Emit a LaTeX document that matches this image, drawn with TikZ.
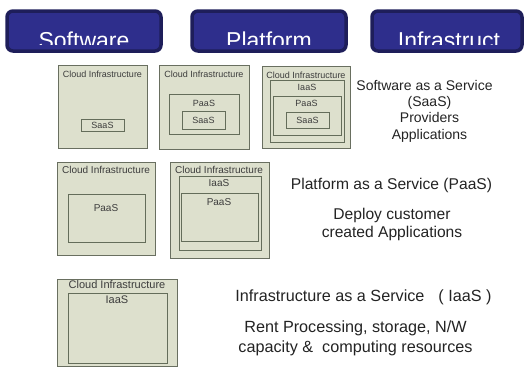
\documentclass[tikz,border=0pt]{standalone}
\usepackage{fontspec}
\setmainfont{Liberation Sans}
\usetikzlibrary{positioning}

\definecolor{btnfill}{RGB}{46,46,140}
\definecolor{btnline}{RGB}{30,30,90}
\definecolor{boxfill}{RGB}{221,224,205}
\definecolor{boxline}{RGB}{105,111,96}
\definecolor{innerline}{RGB}{100,109,90}
\definecolor{tagtext}{RGB}{60,60,60}
\definecolor{captext}{RGB}{35,35,35}

\tikzset{
  btnbox/.style={draw=btnline, fill=btnfill, line width=3.5pt, rounded corners=6pt},
  btntext/.style={font=\fontsize{23}{24}\selectfont, text=white, anchor=base, inner sep=0pt},
  cibox/.style={draw=boxline, fill=boxfill, line width=1pt},
  layerbox/.style={draw=innerline, line width=1pt},
  tag/.style={font=\fontsize{#1}{#1}\selectfont, text=tagtext, inner sep=0pt},
  tag/.default=9,
  caption/.style={font=\fontsize{#1}{#1}\selectfont, text=captext, align=center, inner sep=0pt},
  caption/.default=16
}

\begin{document}
\begin{tikzpicture}[x=1pt,y=-1pt]
  \useasboundingbox (0,0) rectangle (531,367);

  % buttons on top
  \draw[btnbox] (7,11) rectangle (161,51);
  \draw[btnbox] (192,11) rectangle (346,51);
  \draw[btnbox] (372,11) rectangle (522,51);
  \begin{scope}
    \clip (0,0) rectangle (531,44.5);
    \node[btntext] (btnsw) at (84,48.5) {Software};
    \node[btntext] (btnpf) at (269,48.5) {Platform};
    \node[btntext] (btnin) at (449,48.5) {Infrastruct};
  \end{scope}

  % SaaS row
  \draw[cibox] (58,65) rectangle (147,148);
  \node[tag] (ciA) at (102.5,74) {Cloud Infrastructure};
  \draw[layerbox] (81,119) rectangle (124,131);
  \node[tag] (saasA) at (102.5,125) {SaaS};

  \draw[cibox] (159,65) rectangle (249,149);
  \node[tag] (ciB) at (204,74) {Cloud Infrastructure};
  \draw[layerbox] (169,94) rectangle (239,134);
  \node[tag] (paasB) at (204,103) {PaaS};
  \draw[layerbox] (182,111) rectangle (225,129);
  \node[tag] (saasB) at (203.5,120) {SaaS};

  \draw[cibox] (262,66) rectangle (350,148);
  \node[tag] (ciC) at (306,75) {Cloud Infrastructure};
  \draw[layerbox] (270,80) rectangle (344,142);
  \node[tag] (iaasC) at (307,87) {IaaS};
  \draw[layerbox] (273,96) rectangle (341,135);
  \node[tag] (paasC) at (306.5,103) {PaaS};
  \draw[layerbox] (286,112) rectangle (329,128);
  \node[tag] (saasC) at (307.5,120) {SaaS};

  \node[caption=14] (saastxt) at (429.5,111)
    {Software as a Service\hspace*{10pt}\\[2.3pt](SaaS)\\[2.3pt]Providers\\[2.3pt]Applications};

  % PaaS row
  \draw[cibox] (57,162) rectangle (155,255);
  \node[tag=10] (ciD) at (106,170) {Cloud Infrastructure};
  \draw[layerbox] (68,194) rectangle (145,242);
  \node[tag=10] (paasD) at (106,208) {PaaS};

  \draw[cibox] (170,162) rectangle (269,258);
  \node[tag=10] (ciE) at (219,170) {Cloud Infrastructure};
  \draw[layerbox] (179,176) rectangle (261,250);
  \node[tag=10] (iaasE) at (219,183) {IaaS};
  \draw[layerbox] (181,193) rectangle (258,241);
  \node[tag=10] (paasE) at (219,202) {PaaS};

  \node[caption=15.6] (paastxt) at (391.5,185) {Platform as a Service (PaaS)};
  \node[caption=15.6] (paasuse) at (392,224) {Deploy customer\\[2.4pt]created Applications};

  % IaaS row
  \draw[cibox] (57,279) rectangle (177,366);
  \node[tag=11] (ciF) at (117,285) {Cloud Infrastructure};
  \draw[layerbox] (68,293) rectangle (167,363);
  \node[tag=11] (iaasF) at (117,300) {IaaS};

  \node[caption=16.2] (iaastxt) at (363.5,297) {Infrastructure as a Service\hspace{14pt}( IaaS )};
  \node[caption=16.2] (iaasuse) at (355.5,338) {Rent Processing, storage, N/W\\[3.8pt]capacity \&\ \ computing resources};

\end{tikzpicture}
\end{document}
